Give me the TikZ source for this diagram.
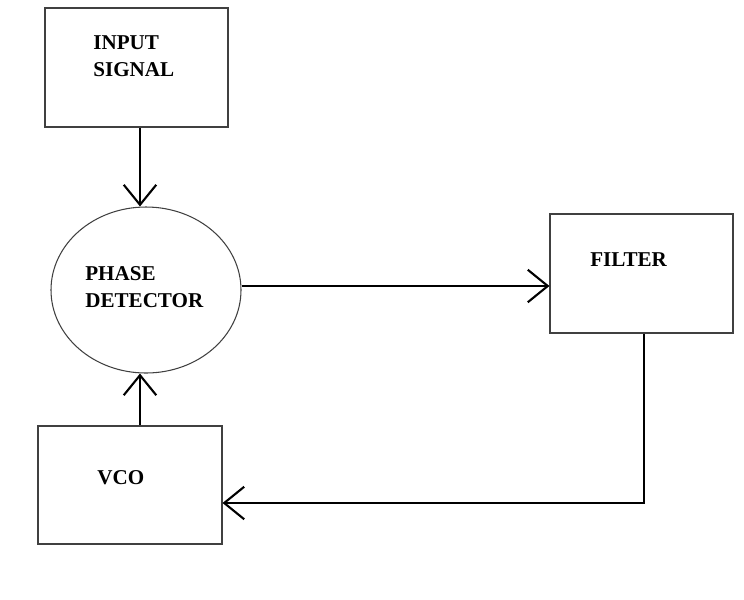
\documentclass[tikz,border=0pt]{standalone}
\usepackage{fontspec}
\setmainfont{Liberation Serif}
\usetikzlibrary{arrows.meta,shapes.geometric}

\begin{document}
\begin{tikzpicture}[scale=0.2,
  block/.style={draw=black!75,line width=0.6pt,minimum width=3.66cm,minimum height=2.38cm},
  blocktext/.style={anchor=west,align=left,font=\bfseries\fontsize{12}{15.4}\selectfont},
  sig/.style={line width=1.2pt,-{Straight Barb[length=4mm,width=6.5mm,line width=1.2pt]}}]
\tikzstyle{every node}+=[inner sep=0pt]
\useasboundingbox (0,0) rectangle (74.4,-59.9);
\node [block] (input) at (13.65,-6.75) {};
\node [blocktext] (inputtxt) at (9.3,-5.65) {INPUT\\SIGNAL};
\node [draw=black!75,line width=0.6pt,ellipse,minimum width=3.8cm,minimum height=3.32cm] (pd) at (14.6,-29) {};
\node [blocktext] (pdtxt) at (8.5,-28.7) {PHASE\\DETECTOR};
\node [block] (filter) at (64.15,-27.35) {};
\node [blocktext] (filtertxt) at (59,-26) {FILTER};
\node [block,minimum width=3.68cm,minimum height=2.36cm] (vco) at (13,-48.5) {};
\node [blocktext] (vcotxt) at (9.7,-47.75) {VCO};
\draw [sig] ([xshift=3.5mm]input.south) -- ([xshift=3.5mm]input.south |- pd.north);
\draw [sig] ([yshift=4mm]pd.east) -- ([yshift=4mm]pd.east -| filter.west);
\draw [sig] ([xshift=2.5mm]filter.south) |- ([yshift=-18mm]vco.east);
\draw [sig] ([xshift=10mm]vco.north) -- ([xshift=10mm]vco.north |- pd.south);
\end{tikzpicture}
\end{document}
